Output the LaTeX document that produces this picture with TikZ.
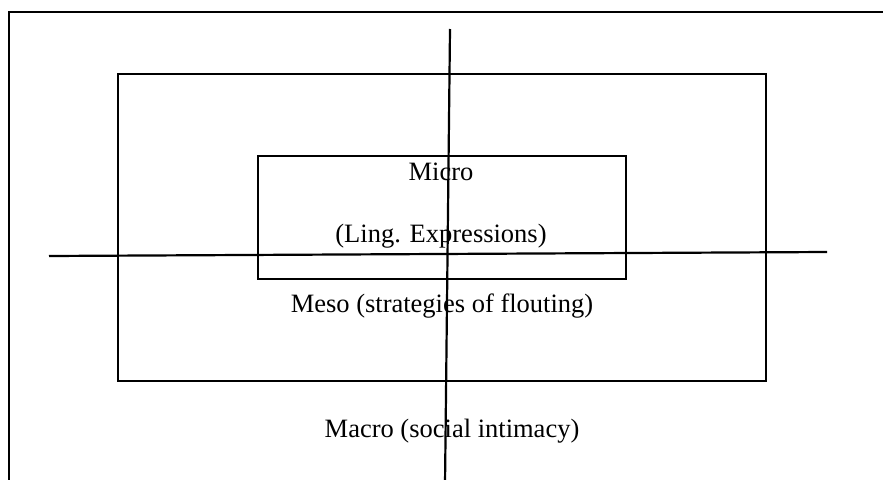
\documentclass[tikz,border=0pt]{standalone}
\usepackage{fontspec}
\setmainfont{Liberation Serif}
\begin{document}
\begin{tikzpicture}[x=1pt,y=-1pt,
  boxline/.style={line width=2.6pt},
  axisline/.style={line width=2.2pt},
  lbl/.style={anchor=base,inner sep=0pt,font=\fontsize{26.5}{30}\selectfont}]
\useasboundingbox (0,0) rectangle (883,479);
% outer frame (cut off at right and bottom)
\draw[boxline] (9,485) -- (9,12) -- (890,12);
% meso rectangle
\draw[boxline] (118,74) rectangle (766,381);
% micro rectangle
\draw[boxline] (258,156) rectangle (626,279);
% labels
\node[lbl] (micro) at (441,180) {Micro};
\node[lbl] (ling) at (441,242) {(Ling. Expressions)};
\node[lbl] (meso) at (442,312) {Meso (strategies of flouting)};
\node[lbl] (macro) at (452,437) {Macro (social intimacy)};
% axes
\coordinate (vtop) at (450,29);
\coordinate (vbot) at (445,485);
\coordinate (hl) at (49,256);
\coordinate (hr) at (827,252);
\draw[axisline] (vtop) -- (vbot);
\draw[axisline] (hl) -- (hr);
\end{tikzpicture}
\end{document}
